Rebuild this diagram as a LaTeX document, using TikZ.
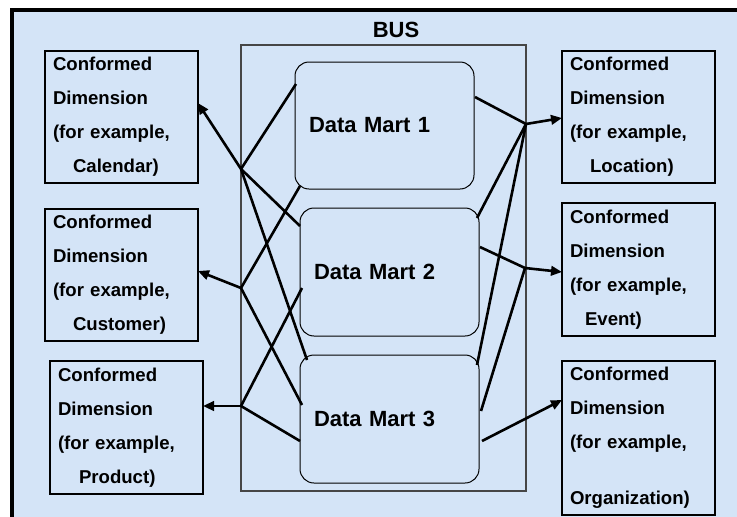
\documentclass[tikz,border=0pt]{standalone}
\usepackage{fontspec}
\setmainfont{Liberation Sans}
\usetikzlibrary{arrows.meta}
\definecolor{bgblue}{RGB}{212,228,247}
\definecolor{busgray}{RGB}{70,70,70}
\begin{document}
\begin{tikzpicture}[x=1pt,y=-1pt,
  dimbox/.style={draw=black, line width=1.4pt, rectangle, align=left,
    text width=137pt, inner xsep=8pt, inner ysep=0pt, minimum height=132pt,
    font=\fontsize{18.6}{34}\selectfont\bfseries},
  martbox/.style={draw=black, line width=1pt, rounded corners=14pt, align=left,
    text width=151pt, inner xsep=14pt, inner ysep=0pt, minimum height=128pt,
    font=\fontsize{22}{26}\selectfont\bfseries},
  busbox/.style={draw=busgray, line width=1.2pt, minimum width=285pt, minimum height=446pt, inner sep=0pt},
  conn/.style={line width=2.6pt, black},
  arr/.style={conn, -{Triangle[length=11pt,width=9.5pt]}},
  lbl/.style={font=\fontsize{22}{26}\selectfont\bfseries}
]
\useasboundingbox (0,0) rectangle (737,517);
% background and frame
\fill[bgblue] (12,10) rectangle (737,517);
\draw[line width=3.5pt, line cap=rect] (737,10) -- (12,10) -- (12,517);

% BUS
\node[busbox] (bus) at (383.5,268) {};
\node[lbl] (buslabel) at (396,29.5) {BUS};

% data marts
\node[martbox, minimum width=179pt, minimum height=127pt] (dm1) at (384.5,125.5) {Data Mart 1};
\node[martbox, minimum width=179pt] (dm2) at (389.5,272) {Data Mart 2};
\node[martbox, minimum width=179pt] (dm3) at (389.5,419) {Data Mart 3};

% conformed dimensions
\node[dimbox] (lb1) at (121.5,117) {Conformed\\Dimension\\(for example,\\\hspace*{20pt}Calendar)};
\node[dimbox] (lb2) at (121.5,275) {Conformed\\Dimension\\(for example,\\\hspace*{20pt}Customer)};
\node[dimbox, minimum height=133pt] (lb3) at (126.5,427.5) {Conformed\\Dimension\\(for example,\\\hspace*{21pt}Product)};
\node[dimbox] (rb1) at (638.5,117) {Conformed\\Dimension\\(for example,\\\hspace*{20pt}Location)};
\node[dimbox, minimum height=133pt] (rb2) at (638.5,269.5) {Conformed\\Dimension\\(for example,\\\hspace*{15pt}Event)};
\node[dimbox, minimum height=154pt] (rb3) at (638.5,438) {Conformed\\Dimension\\(for example,\\[22pt]Organization)};

% junctions
\coordinate (j1) at (241,169);
\coordinate (j2) at (241,288);
\coordinate (j3) at (241,406);
\coordinate (r1) at (526,124);
\coordinate (r2) at (525,268);

% attachment points
\coordinate (lb1t) at (198,103);
\coordinate (lb2t) at (198,271);
\coordinate (lb3t) at (203,406);
\coordinate (rb1t) at (562,118);
\coordinate (rb2t) at (562,272);
\coordinate (rb3t) at (562,400);
\coordinate (dm1a) at (296,84);
\coordinate (dm1b) at (300,186);
\coordinate (dm2c) at (300,226);
\coordinate (dm2d) at (302,288);
\coordinate (dm3e) at (307,360);
\coordinate (dm3f) at (302,405);
\coordinate (dm3g) at (300,441);
\coordinate (dm1h) at (475,97);
\coordinate (dm2i) at (477,218);
\coordinate (dm3k) at (477,365);
\coordinate (dm2l) at (480,247);
\coordinate (dm3m) at (481,411);
\coordinate (dm3n) at (482,441);

% left connectors
\draw[conn] (dm1a) -- (j1);
\draw[conn] (dm2c) -- (j1);
\draw[conn] (dm3e) -- (j1);
\draw[arr] (j1) -- (lb1t);
\draw[conn] (dm1b) -- (j2);
\draw[conn] (dm3f) -- (j2);
\draw[arr] (j2) -- (lb2t);
\draw[conn] (dm2d) -- (j3);
\draw[conn] (dm3g) -- (j3);
\draw[arr] (j3) -- (lb3t);

% right connectors
\draw[conn] (dm1h) -- (r1);
\draw[conn] (dm2i) -- (r1);
\draw[conn] (dm3k) -- (r1);
\draw[arr] (r1) -- (rb1t);
\draw[conn] (dm2l) -- (r2);
\draw[conn] (dm3m) -- (r2);
\draw[arr] (r2) -- (rb2t);
\draw[arr] (dm3n) -- (rb3t);
\end{tikzpicture}
\end{document}
